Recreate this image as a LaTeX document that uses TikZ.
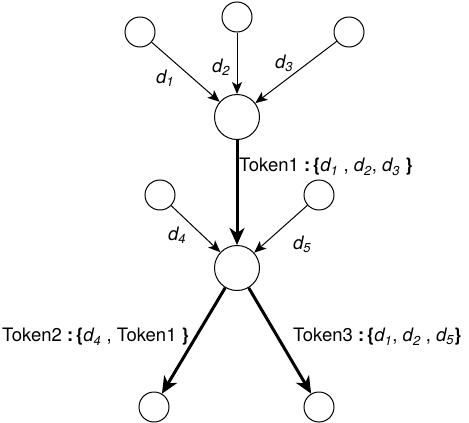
\documentclass[tikz,border=0pt]{standalone}
\usepackage{fontspec}
\setmainfont{TeX Gyre Heros}
\usepackage{tikz}
\usetikzlibrary{arrows.meta,positioning}

\newcommand{\dv}[1]{\textit{d\textsubscript{#1}}}

\begin{document}
\begin{tikzpicture}[
    x=1pt, y=-1pt,
    leaf/.style={draw, circle, line width=1pt, minimum size=30pt, inner sep=0pt},
    hub/.style={draw, circle, line width=1pt, minimum size=45pt, inner sep=0pt},
    feed/.style={line width=1pt, -{Stealth[length=12pt, width=10pt, inset=3pt]}},
    pass/.style={line width=3pt, -{Stealth[length=17pt, width=15pt, inset=5pt]}},
    lbl/.style={font=\fontsize{18.5}{22}\selectfont, inner sep=0pt}
]
    \useasboundingbox (0,0) rectangle (469,423);

    % Hubs
    \node [hub] (hub1) at (237,117) {};
    \node [hub] (hub2) at (237,268) {};

    % Inputs of the first hub
    \foreach \n/\x/\y in {1/140/32, 2/237/17, 3/349/32} {
        \node [leaf] (in\n) at (\x,\y) {};
        \draw [feed] (in\n) -- (hub1);
    }

    % Inputs of the second hub
    \foreach \n/\x in {4/160, 5/319} {
        \node [leaf] (in\n) at (\x,195) {};
        \draw [feed] (in\n) -- (hub2);
    }

    % Outputs
    \node [leaf] (out2) at (154,407) {};
    \node [leaf] (out3) at (319,407) {};

    \draw [pass] (hub1) -- (hub2);
    \draw [pass] (hub2) -- (out2);
    \draw [pass] (hub2) -- (out3);

    % Labels
    \node [lbl] (l1) at (165,78) {\dv{1}};
    \node [lbl] (l2) at (221,67) {\dv{2}};
    \node [lbl] (l3) at (284,63) {\dv{3}};
    \node [lbl] (l4) at (177,235) {\dv{4}};
    \node [lbl] (l5) at (302,244) {\dv{5}};
    \node [lbl, anchor=west] (tok1) at (239,167) {Token1 \textbf{:}\,\textbf{\{}\dv{1} , \dv{2}, \dv{3} \textbf{\}}};
    \node [lbl, anchor=west] (tok2) at (2,337) {Token2 \textbf{:}\,\textbf{\{}\dv{4} , Token1 \textbf{\}}};
    \node [lbl, anchor=west] (tok3) at (293,337) {Token3 \textbf{:}\,\textbf{\{}\dv{1}, \dv{2} , \dv{5}\textbf{\}}};
\end{tikzpicture}
\end{document}
